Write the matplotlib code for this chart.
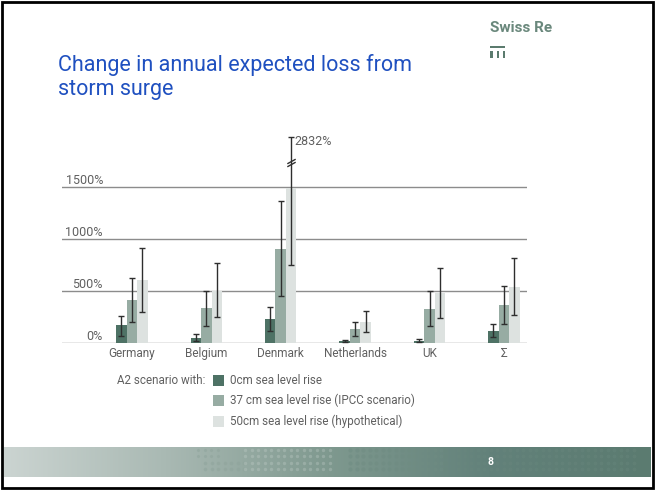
import numpy as np
import matplotlib
matplotlib.use("Agg")
import matplotlib.pyplot as plt
from matplotlib.patches import Rectangle
from matplotlib.colors import LinearSegmentedColormap

plt.rcParams['font.family'] = ['Roboto', 'DejaVu Sans']

# Storm surge loss change per country, three sea level scenarios (in %)
countries = ["Germany", "Belgium", "Denmark", "Netherlands", "UK", "Σ"]
scenarios = ["0cm sea level rise",
             "37 cm sea level rise (IPCC scenario)",
             "50cm sea level rise (hypothetical)"]

loss_0cm = [175, 48, 230, 22, 22, 121]
loss_37cm = [415, 335, 903, 140, 331, 367]
loss_50cm = [606, 501, 1490, 204, 479, 539]

low_0cm = [73, 22, 118, 10, 10, 57]
high_0cm = [264, 86, 351, 30, 41, 185]
low_37cm = [207, 166, 456, 70, 166, 182]
high_37cm = [628, 501, 1363, 207, 501, 552]
low_50cm = [303, 255, 750, 105, 239, 268]
high_50cm = [916, 766, 2832, 309, 724, 814]

ytick_values = [0, 500, 1000, 1500]
ytick_labels = ["0%", "500%", "1000%", "1500%"]

colors = ["#4e7265", "#97aca3", "#dde2e0"]
text_grey = "#606060"

W, H = 655, 490


def px(x, y):
    return x / W, 1 - y / H


# broken axis: everything above BREAK is squeezed
BREAK = 1700
SQUEEZE = 0.241


def fwd(y):
    y = np.asarray(y, dtype=float)
    return np.where(y <= BREAK, y, BREAK + (y - BREAK) * SQUEEZE)


def inv(y):
    y = np.asarray(y, dtype=float)
    return np.where(y <= BREAK, y, BREAK + (y - BREAK) / SQUEEZE)


fig = plt.figure(figsize=(W / 100, H / 100), dpi=100)

# chart area
l, b = px(62, 343.3)
r, t = px(527, 130)
ax = fig.add_axes([l, b, r - l, t - b])
ax.set_yscale('function', functions=(fwd, inv))
ax.set_xlim(-0.94, 5.31)
ax.set_ylim(0, float(inv(2043)))

x = np.arange(len(countries))
bw = 0.141
series = [(loss_0cm, low_0cm, high_0cm),
          (loss_37cm, low_37cm, high_37cm),
          (loss_50cm, low_50cm, high_50cm)]

for v, lab in zip(ytick_values, ytick_labels):
    ax.axhline(v, color="#8c8c8c", lw=1.0, zorder=1)
    ax.text(0.088, v, lab, transform=ax.get_yaxis_transform(),
            ha="right", va="bottom", fontsize=9, color=text_grey)

for i, (vals, lo, hi) in enumerate(series):
    xs = x + (i - 1) * bw
    vals = np.array(vals, float)
    lo = np.array(lo, float)
    hi = np.array(hi, float)
    ax.bar(xs, vals, width=bw, color=colors[i], zorder=2, linewidth=0)
    ax.errorbar(xs, vals, yerr=[vals - lo, hi - vals], fmt="none",
                ecolor="#2e2e2e", elinewidth=1, capsize=2.3, capthick=1,
                zorder=3)

# break marks and label on the Denmark 50cm error bar
dk = 2
xb = x[dk] + bw
ax.plot([xb, xb], inv([BREAK + 17, BREAK + 50]), ls="none",
        marker=[(-1, -0.55), (1, 0.55)], ms=6, mew=1, color="#2e2e2e",
        zorder=4)
ax.annotate(f"{high_50cm[dk]}%", (xb, high_50cm[dk]), xytext=(2.5, 1.5),
            textcoords="offset points", ha="left", va="top", fontsize=9,
            color=text_grey)

ax.set_xticks(x)
ax.set_xticklabels(countries, fontsize=8.5, color=text_grey)
ax.tick_params(axis="x", length=0, pad=3)
ax.set_yticks([])
ax.yaxis.set_minor_locator(matplotlib.ticker.NullLocator())
for s in ax.spines.values():
    s.set_visible(False)
ax.patch.set_alpha(0)

# title
fig.text(*px(58, 54), "Change in annual expected loss from\nstorm surge",
         ha="left", va="top", fontsize=15.5, color="#1f50c0",
         linespacing=1.2)

# logo
fig.text(*px(490, 28), "Swiss Re", ha="left", va="center", fontsize=11,
         fontweight="bold", color="#6a887c")
fig.add_artist(Rectangle(px(490, 48.5), 15 / W, 2.5 / H,
                         transform=fig.transFigure, color="#5b7b6e", lw=0))
for xx in (490.5, 496.5, 502.5):
    fig.add_artist(Rectangle(px(xx, 58), 2.8 / W, 6.5 / H,
                             transform=fig.transFigure, color="#5b7b6e", lw=0))

# legend
fig.text(*px(117, 380), "A2 scenario with:", ha="left", va="center",
         fontsize=8.4, color=text_grey)
for i, (lab, yy) in enumerate(zip(scenarios, (380, 400.5, 421))):
    fig.add_artist(Rectangle(px(213, yy + 5.5), 11 / W, 11 / H,
                             transform=fig.transFigure, color=colors[i], lw=0))
    fig.text(*px(230, yy), lab, ha="left", va="center", fontsize=8.4,
             color=text_grey)

# footer band with dotted texture
fl, fb = px(4, 477)
fr, ft = px(651, 447)
fax = fig.add_axes([fl, fb, fr - fl, ft - fb])
band = LinearSegmentedColormap.from_list(
    "band", ["#cbd4d1", "#a9b9b3", "#7f998f", "#62817a", "#5b7b70"])
fax.imshow(np.linspace(0, 1, 256)[None, :], aspect="auto", cmap=band,
           extent=[4, 651, 477, 447])
for x0, x1, ys, c, a, sz in [
        (198, 222, (450, 456), "#8ea39b", 0.5, 5),
        (205, 250, (463, 469), "#8ea39b", 0.5, 7),
        (245, 330, (450, 456, 463, 469), "#c8d3ce", 0.3, 6),
        (350, 445, (450, 456, 463, 469), "#6f8c82", 0.55, 9),
        (445, 640, (450, 456, 463, 469), "#6a887e", 0.35, 8)]:
    xs = np.arange(x0, x1, 6.5)
    for yy in ys:
        fax.scatter(xs, np.full_like(xs, yy), s=sz, color=c, alpha=a, lw=0)
fax.set_xlim(4, 651)
fax.set_ylim(477, 447)
fax.axis("off")
fig.text(*px(491, 462), "8", ha="center", va="center", fontsize=7.5,
         color="white", fontweight="bold")

# slide frame
fig.add_artist(Rectangle((2 / W, 2 / H), 1 - 4 / W, 1 - 4 / H,
                         transform=fig.transFigure, fill=False,
                         edgecolor="black", lw=2))

fig.savefig("out.png", dpi=100)
